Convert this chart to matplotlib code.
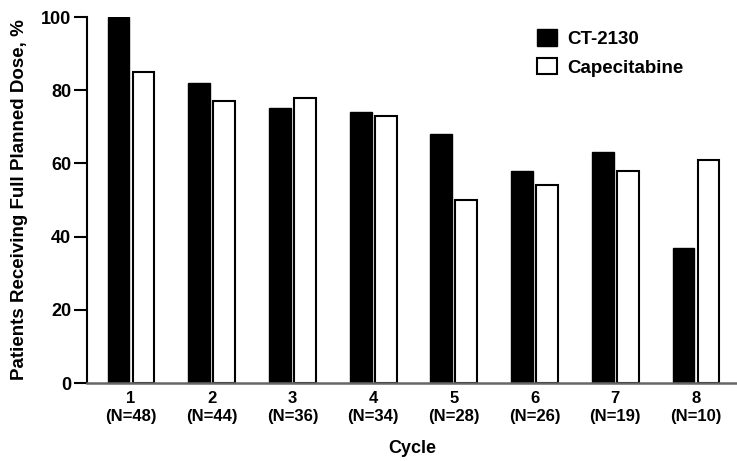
import matplotlib
matplotlib.use("Agg")
import matplotlib.pyplot as plt
import numpy as np

cycles = ["1", "2", "3", "4", "5", "6", "7", "8"]
n_labels = ["(N=48)", "(N=44)", "(N=36)", "(N=34)", "(N=28)", "(N=26)", "(N=19)", "(N=10)"]
ct2130 = [100, 82, 75, 74, 68, 58, 63, 37]
capecitabine = [85, 77, 78, 73, 50, 54, 58, 61]

plt.rcParams['font.family'] = ['Liberation Sans', 'DejaVu Sans']
plt.rcParams['font.weight'] = 'bold'

fig = plt.figure(figsize=(7.37, 4.61), dpi=100)
ax = fig.add_axes([87/737, 1-383/461, 1-87/737, (383-17)/461])

x = np.arange(1, len(cycles) + 1)
w = 0.27
off = 0.155
ax.bar(x - off, ct2130, width=w, color='black', edgecolor='black', linewidth=1.0, label='CT-2130')
ax.bar(x + off, capecitabine, width=w, color='white', edgecolor='black', linewidth=1.5, label='Capecitabine')

ax.set_xlim(0.456, 8.507)
ax.set_ylim(0, 100)
ax.set_yticks([0, 20, 40, 60, 80, 100])
ax.set_xticks(x)
ax.set_xticklabels([f"{c}\n{n}" for c, n in zip(cycles, n_labels)], fontsize=12, fontweight='bold', linespacing=1.25)
ax.tick_params(axis='x', length=0, pad=6)
ax.tick_params(axis='y', length=9.5, width=1.5, labelsize=13, pad=2)
for lbl in ax.get_yticklabels():
    lbl.set_fontweight('bold')

ax.spines['top'].set_visible(False)
ax.spines['right'].set_visible(False)
ax.spines['left'].set_linewidth(1.5)
ax.spines['bottom'].set_linewidth(1.8)
ax.spines['bottom'].set_color('#666666')

ax.set_xlabel('Cycle', fontsize=13, fontweight='bold', labelpad=11)
ax.set_ylabel('Patients Receiving Full Planned Dose, %', fontsize=13.5, fontweight='bold', labelpad=9)

leg = ax.legend(loc='upper left', bbox_to_anchor=(0.666, 1.012), frameon=False,
                prop={'weight': 'bold', 'size': 13.5}, handlelength=1.1, handleheight=0.95,
                handletextpad=0.55, labelspacing=0.55)

fig.savefig('out.png', dpi=100)
